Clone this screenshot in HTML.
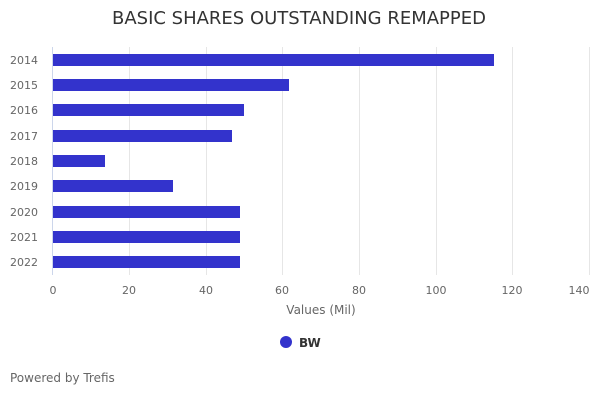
<!DOCTYPE html>
<html><head><meta charset="utf-8"><style>
body{margin:0;background:#fff;font-family:"DejaVu Sans","Liberation Sans",sans-serif;}
</style></head><body>
<svg width="600" height="400" xmlns="http://www.w3.org/2000/svg" font-family="DejaVu Sans, Liberation Sans, sans-serif">
<rect width="600" height="400" fill="#fff"/>
<text x="112" y="24" font-size="17.5" fill="#333" textLength="374" lengthAdjust="spacingAndGlyphs">BASIC SHARES OUTSTANDING REMAPPED</text>
<g stroke="#e6e6e6" stroke-width="1">
<line x1="129.5" y1="47" x2="129.5" y2="275"/>
<line x1="206.5" y1="47" x2="206.5" y2="275"/>
<line x1="282.5" y1="47" x2="282.5" y2="275"/>
<line x1="359.5" y1="47" x2="359.5" y2="275"/>
<line x1="436.5" y1="47" x2="436.5" y2="275"/>
<line x1="512.5" y1="47" x2="512.5" y2="275"/>
<line x1="589.5" y1="47" x2="589.5" y2="275"/>
</g>
<line x1="52.5" y1="47" x2="52.5" y2="275" stroke="#ccd6eb"/>
<g fill="#3333cc">
<rect x="53" y="54" width="441" height="12"/>
<rect x="53" y="79" width="236" height="12"/>
<rect x="53" y="104" width="191" height="12"/>
<rect x="53" y="130" width="179" height="12"/>
<rect x="53" y="155" width="52" height="12"/>
<rect x="53" y="180" width="120" height="12"/>
<rect x="53" y="206" width="187" height="12"/>
<rect x="53" y="231" width="187" height="12"/>
<rect x="53" y="256" width="187" height="12"/>
</g>
<g font-size="11" fill="#666" text-anchor="end">
<text x="38" y="64">2014</text>
<text x="38" y="89">2015</text>
<text x="38" y="114">2016</text>
<text x="38" y="140">2017</text>
<text x="38" y="165">2018</text>
<text x="38" y="190">2019</text>
<text x="38" y="216">2020</text>
<text x="38" y="241">2021</text>
<text x="38" y="266">2022</text>
</g>
<g font-size="11" fill="#666" text-anchor="middle">
<text x="53" y="294">0</text>
<text x="129" y="294">20</text>
<text x="206" y="294">40</text>
<text x="282" y="294">60</text>
<text x="359" y="294">80</text>
<text x="436" y="294">100</text>
<text x="512" y="294">120</text>
<text x="579" y="294">140</text>
</g>
<text x="321" y="314" text-anchor="middle" font-size="12" fill="#666">Values (Mil)</text>
<circle cx="286" cy="342" r="6" fill="#3333cc"/>
<text x="299" y="347" font-size="12" font-weight="bold" fill="#333">BW</text>
<text x="10" y="382" font-size="12" fill="#666">Powered by Trefis</text>
</svg>
</body></html>
